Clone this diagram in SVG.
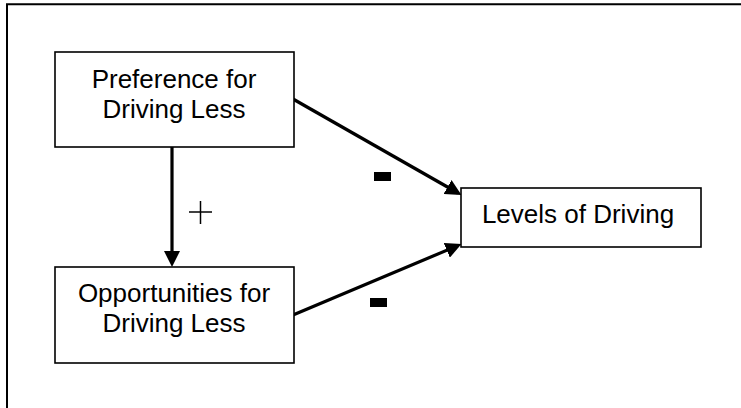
<svg xmlns="http://www.w3.org/2000/svg" width="741" height="408" viewBox="0 0 741 408">
<style>
.box{fill:#fff;stroke:#000;stroke-width:1.6}
.lbl{font-family:"Liberation Sans",Arial,sans-serif;font-size:26px;fill:#000;text-anchor:middle}
.arr{stroke:#000;stroke-width:3.2;fill:none;marker-end:url(#ah)}
</style>
<defs>
<marker id="ah" markerUnits="userSpaceOnUse" markerWidth="16" markerHeight="16" viewBox="0 0 16 16" refX="12" refY="8" orient="auto">
<path d="M0,0 L16,8 L0,16 z" fill="#000"/>
</marker>
</defs>
<rect width="741" height="408" fill="#fff"/>
<g id="frame">
<path d="M7,408 V4.3 H741" fill="none" stroke="#000" stroke-width="2"/>
</g>
<g id="connectors">
<line class="arr" x1="172" y1="147" x2="172" y2="263"/>
<line class="arr" x1="293" y1="99" x2="458" y2="193"/>
<line class="arr" x1="293" y1="315" x2="457.8" y2="245.6"/>
<g id="sign-plus" stroke="#000" stroke-width="1.5">
<line x1="189" y1="212" x2="212" y2="212"/>
<line x1="200.5" y1="201" x2="200.5" y2="224"/>
</g>
<rect id="sign-minus-1" x="374" y="172" width="17" height="9" fill="#000"/>
<rect id="sign-minus-2" x="370" y="298" width="17" height="9" fill="#000"/>
</g>
<g id="node-preference">
<rect class="box" x="55" y="52" width="239" height="95"/>
<text class="lbl" x="174" y="88">Preference for</text>
<text class="lbl" x="174" y="118">Driving Less</text>
</g>
<g id="node-opportunities">
<rect class="box" x="55" y="267" width="239" height="96"/>
<text class="lbl" x="174" y="302">Opportunities for</text>
<text class="lbl" x="174" y="332">Driving Less</text>
</g>
<g id="node-levels">
<rect class="box" x="461" y="188" width="240" height="59"/>
<text class="lbl" x="578" y="223">Levels of Driving</text>
</g>
</svg>
